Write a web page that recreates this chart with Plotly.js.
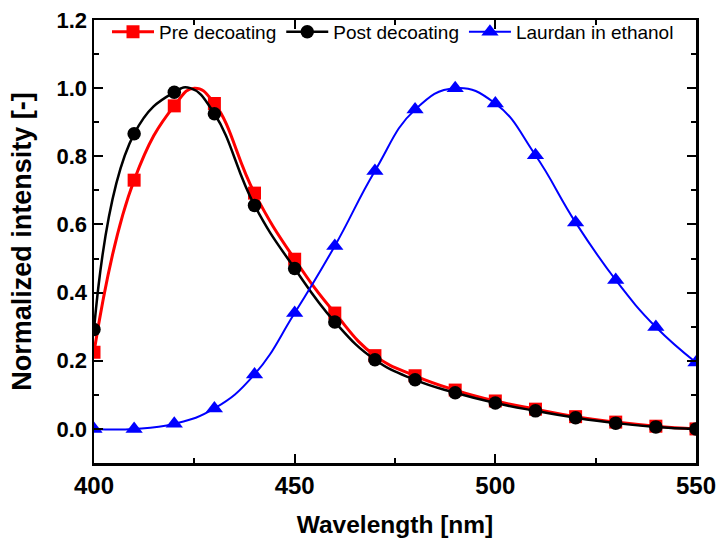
<!DOCTYPE html>
<html>
<head>
<meta charset="utf-8">
<script src="https://cdn.plot.ly/plotly-3.0.1.min.js"></script>
<style>html,body{margin:0;padding:0;background:#fff;}#chart{width:717px;height:542px;}</style>
</head>
<body>
<div id="chart"></div>
<script>
// measured points (markers every 10 nm)
var wavelength = [400, 410, 420, 430, 440, 450, 460, 470, 480, 490, 500, 510, 520, 530, 540, 550];
var preDecoating = [0.225, 0.73, 0.948, 0.955, 0.692, 0.498, 0.34, 0.215, 0.156, 0.114, 0.082, 0.058, 0.036, 0.02, 0.008, 0.0];
var postDecoating = [0.292, 0.866, 0.988, 0.925, 0.656, 0.471, 0.314, 0.203, 0.144, 0.106, 0.076, 0.053, 0.033, 0.017, 0.006, 0.0];
var laurdanEthanol = [0.0, 0.0, 0.015, 0.06, 0.16, 0.34, 0.537, 0.757, 0.937, 1.0, 0.955, 0.803, 0.606, 0.437, 0.299, 0.195];
// extra curve points read off the picture near the peaks (line only, no marker)
var prePeakX = [425];
var prePeakY = [1.0];
var postPeakX = [424];
var postPeakY = [1.0];
var seriesNames = ["Pre decoating", "Post decoating", "Laurdan in ethanol"];
var xTickVals = [400, 450, 500, 550];
var yTickVals = [0.0, 0.2, 0.4, 0.6, 0.8, 1.0, 1.2];

function mergeCurve(xs, ys, ex, ey) {
  var pts = [];
  for (var i = 0; i < xs.length; i++) pts.push([xs[i], ys[i]]);
  for (var j = 0; j < ex.length; j++) pts.push([ex[j], ey[j]]);
  pts.sort(function (a, b) { return a[0] - b[0]; });
  return {x: pts.map(function (p) { return p[0]; }), y: pts.map(function (p) { return p[1]; })};
}
var preCurve = mergeCurve(wavelength, preDecoating, prePeakX, prePeakY);
var postCurve = mergeCurve(wavelength, postDecoating, postPeakX, postPeakY);

var fontFam = "Liberation Sans, Arial, sans-serif";
var colors = ["#ff0000", "#000000", "#0000ff"];
var widths = [3, 2.5, 2];
var symbols = ["square", "circle", "triangle-up"];
var sizes = [13, 13.5, 15];
var curves = [preCurve, postCurve, {x: wavelength, y: laurdanEthanol}];
var markerY = [preDecoating, postDecoating, laurdanEthanol];

var traces = [];
for (var s = 0; s < 3; s++) {
  traces.push({x: curves[s].x, y: curves[s].y, type: "scatter", mode: "lines", showlegend: false,
    name: seriesNames[s], hoverinfo: "skip",
    line: {color: colors[s], width: widths[s], shape: "spline", smoothing: 1.3}});
  traces.push({x: wavelength, y: markerY[s], type: "scatter", mode: "markers", showlegend: false,
    name: seriesNames[s],
    marker: {symbol: symbols[s], size: sizes[s], color: colors[s]}});
}
for (var k = 0; k < 3; k++) {
  traces.push({x: [null], y: [null], type: "scatter", mode: "lines+markers", name: seriesNames[k],
    line: {color: colors[k], width: widths[k]},
    marker: {symbol: symbols[k], size: sizes[k], color: colors[k]}});
}

var axisCommon = {
  showline: true, linecolor: "#000", linewidth: 2.5, mirror: "ticks",
  ticks: "inside", ticklen: 9, tickwidth: 2, tickcolor: "#000",
  showgrid: false, zeroline: false
};

var layout = {
  width: 717, height: 542,
  margin: {l: 94, r: 21, t: 20, b: 79},
  paper_bgcolor: "#fff", plot_bgcolor: "#fff",
  font: {family: fontFam, color: "#000"},
  showlegend: true,
  legend: {orientation: "h", x: 0.0216, xanchor: "left", y: 1.016, yanchor: "top",
           bgcolor: "rgba(0,0,0,0)", font: {size: 19, family: fontFam, color: "#000"},
           itemwidth: 42, tracegroupgap: 0},
  xaxis: Object.assign({}, axisCommon, {
    range: [400, 550], tickmode: "array", tickvals: xTickVals,
    tickfont: {size: 24, family: fontFam, weight: "bold"},
    minor: {ticks: "inside", ticklen: 5, tickwidth: 2, tickcolor: "#000", dtick: 25, tick0: 400},
    title: {text: "<b>Wavelength [nm]</b>", font: {size: 24.5, family: fontFam}, standoff: 18}
  }),
  yaxis: Object.assign({}, axisCommon, {
    range: [-0.1, 1.2], tickmode: "array", tickvals: yTickVals, tickformat: ".1f",
    tickfont: {size: 22, family: fontFam, weight: "bold"},
    minor: {ticks: "inside", ticklen: 5, tickwidth: 2, tickcolor: "#000", dtick: 0.1, tick0: 0},
    title: {text: "<b>Normalized intensity [-]</b>", font: {size: 27, family: fontFam}, standoff: 17}
  })
};

Plotly.newPlot("chart", traces, layout, {displayModeBar: false, staticPlot: true});
</script>
</body>
</html>
